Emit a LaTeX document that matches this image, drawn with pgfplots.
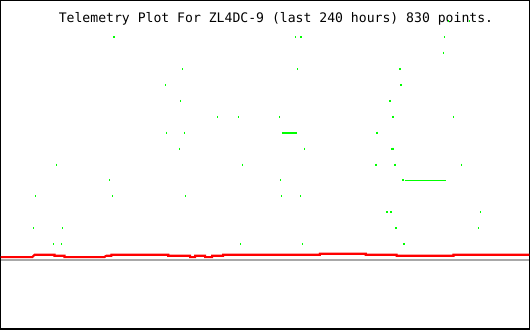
\documentclass[border=0pt]{standalone}
\usepackage{pgfplots}
\pgfplotsset{compat=1.18}
\usepackage{fontspec}
\setmonofont{DejaVu Sans Mono}
\definecolor{dotgreen}{HTML}{00FF00}
\definecolor{linered}{HTML}{FF0000}
\definecolor{basegray}{HTML}{A8A8A8}
\begin{document}
\begin{tikzpicture}
\begin{axis}[
  scale only axis, width=528pt, height=328pt,
  xmin=0, xmax=530, ymin=0, ymax=330,
  xtick=\empty, ytick=\empty,
  axis line style={black, line width=1.3pt},
  clip=true,
]
\node[anchor=base, inner sep=0pt, font=\ttfamily\fontsize{13.1}{14}\selectfont] at (axis cs:276,308.3) {Telemetry Plot For ZL4DC-9 (last 240 hours) 830 points.};
% baseline gray
\addplot[basegray, line width=2pt] coordinates {(0,69.3) (530,69.3)};
% red telemetry line
\addplot[linered, line width=2.1pt] coordinates {
(0,72.3)(31.7,72.3)(34,74.7)(54,74.7)(54,73.7)(64,73.7)(64,72.3)(104,72.3)(105,73.2)(106,73.7)(111,73.7)(111,74.7)(168,74.7)(168,73.7)(190,73.7)(190,72.3)(195,72.3)(195,73.7)(205,73.7)(205,72.3)(212,72.3)(212,73.7)(223,73.7)(223,74.7)(320,74.7)(320,75.7)(366,75.7)(366,74.7)(397,74.7)(397,73.7)(454,73.7)(454,74.7)(530,74.7)};
% green segments
\addplot[dotgreen, line width=1.8pt] coordinates {(282,197.3) (297.5,197.3)};
\addplot[dotgreen, line width=1.8pt] coordinates {(405,149.3) (446,149.3)};
% green dots
\addplot[only marks, mark=|, mark size=1pt, dotgreen, mark options={line width=1.2pt}] coordinates {
(449,309.3)(470,309.3)
(113.7,293.3)(295.3,293.3)(301,293.3)(445,293.3)
(444.3,277.7)
(182.3,261.3)(297.3,261.3)(400.3,261.3)
(165.3,245.3)(401.3,245.3)
(180.3,229.3)(390.3,229.3)
(217.3,213.3)(238.3,213.3)(279.3,213.3)(393.3,213.3)(454.3,213.3)
(166.3,197.3)(184.3,197.3)(377.3,197.3)
(179.3,181.3)(304.3,181.3)(392.3,181.3)(394,181.3)
(56.3,165.3)(242.3,165.3)(376.3,165.3)(395.3,165.3)(462.3,165.3)
(109.3,149.3)(280.3,149.3)(403.3,149.3)
(35.3,133.3)(112.3,133.3)(185.3,133.3)(281.3,133.3)(300.3,133.3)
(387.3,117.3)(391.3,117.3)(481.3,117.3)
(33.3,101.3)(62.3,101.3)(396.3,101.3)(478.7,101.3)
(53.3,85.3)(61.3,85.3)(240.3,85.3)(302.3,85.3)(404.3,85.3)
};
\end{axis}
\end{tikzpicture}
\end{document}
